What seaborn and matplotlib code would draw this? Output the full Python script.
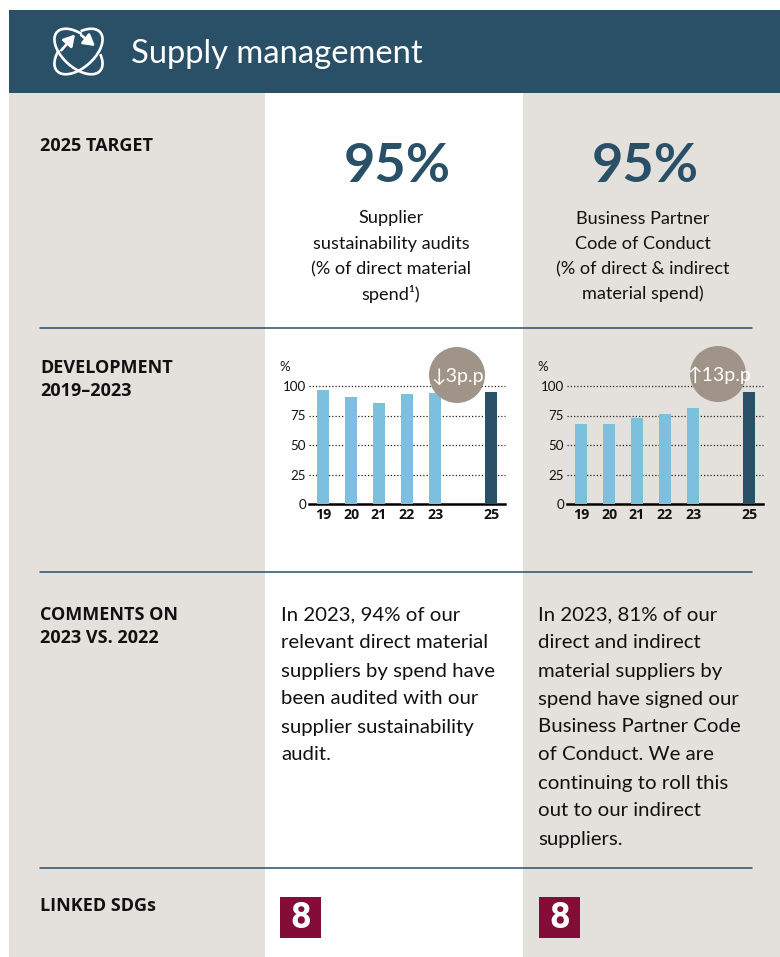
import numpy as np
import pandas as pd
import seaborn as sns
import matplotlib.pyplot as plt
from matplotlib.patches import Rectangle, Circle, Arc, FancyArrowPatch

# datos de los graficos
years = ['19', '20', '21', '22', '23', '24', '25']
audits = [97, 91, 86, 93, 94, np.nan, 95]
conduct = [68, 68, 73, 76, 81, np.nan, 95]
y_ticks = [0, 25, 50, 75, 100]

row_labels = [['2025 TARGET'], ['DEVELOPMENT', '2019–2023'], ['COMMENTS ON', '2023 VS. 2022'], ['LINKED SDGs']]
target = '95%'
kpi_left = ['Supplier', 'sustainability audits', '(% of direct material', 'spend¹)']
kpi_right = ['Business Partner', 'Code of Conduct', '(% of direct & indirect', 'material spend)']
comment_left = ['In 2023, 94% of our', 'relevant direct material', 'suppliers by spend have',
                'been audited with our', 'supplier sustainability', 'audit.']
comment_right = ['In 2023, 81% of our', 'direct and indirect', 'material suppliers by',
                 'spend have signed our', 'Business Partner Code', 'of Conduct. We are',
                 'continuing to roll this', 'out to our indirect', 'suppliers.']

NAVY = '#2A5068'
LIGHT = '#7CC0DE'
GREY = '#E4E1DC'
TAUPE = '#A09488'
SDG = '#830D36'
W, H = 780, 957
BODY = ['Lato', 'DejaVu Sans']
BOLD = ['Open Sans', 'DejaVu Sans']

sns.set_theme(style='white')
plt.rcParams['font.family'] = BODY

fig = plt.figure(figsize=(W / 100, H / 100), dpi=100, facecolor='white')

# capa de fondo en pixeles
bg = fig.add_axes([0, 0, 1, 1])
bg.set_xlim(0, W)
bg.set_ylim(H, 0)
bg.axis('off')
bg.add_patch(Rectangle((9, 93), 256, H - 93, color=GREY, lw=0))
bg.add_patch(Rectangle((523, 93), W - 523, H - 93, color=GREY, lw=0))
bg.add_patch(Rectangle((9, 10), W - 9, 83, color=NAVY, lw=0))
for yy in [328, 572, 868]:
    bg.plot([40, 752], [yy, yy], color=NAVY, lw=1.1)

# icono de la cabecera
cx, cy = 78.5, 51.5
bg.add_patch(Arc((cx, cy), 58, 32, angle=42, theta1=325, theta2=238, color='white', lw=1.9))
bg.add_patch(Arc((cx, cy), 58, 32, angle=-42, theta1=318, theta2=226, color='white', lw=1.9))
for start, tip in [((61.3, 50.3), (75, 34.5)), ((81.3, 35.3), (95, 46))]:
    bg.add_patch(FancyArrowPatch(start, tip, arrowstyle='-|>,head_length=0.55,head_width=0.32',
                                 mutation_scale=12, shrinkA=0, shrinkB=0, color='white', lw=1.9))

bg.text(131, 54, 'Supply management', color='white', fontsize=23.6, va='center', ha='left')

# etiquetas de las filas
for lines, yy in zip(row_labels, [146, 368, 615, 906]):
    for i, line in enumerate(lines):
        bg.text(40, yy + i * 23, line, fontsize=13, fontweight='bold', family=BOLD,
                color='#111111', va='center')

# objetivo y descripcion
for xc, xt, lines in [(391, 397, kpi_left), (643, 645, kpi_right)]:
    bg.text(xt, 166, target, fontsize=39, fontweight='bold', color=NAVY, ha='center', va='center')
    for i, line in enumerate(lines):
        bg.text(xc, 218.5 + i * 25.2, line, fontsize=13.1, color='#111111', ha='center', va='center')

# comentarios
for xl, lines in [(281, comment_left), (538, comment_right)]:
    for i, line in enumerate(lines):
        bg.text(xl, 615 + i * 28, line, fontsize=14.7, color='#111111', ha='left', va='center')

# cuadros SDG
for xl in [280, 539]:
    bg.add_patch(Rectangle((xl, 897), 41, 41, color=SDG, lw=0))
    bg.text(xl + 20.5, 918, '8', color='white', fontsize=26, fontweight='bold',
            family=['Roboto', 'DejaVu Sans'], ha='center', va='center')


def draw_chart(left, values, badge, cxb, cyb):
    # graficos de barras: x en pixeles 'left' hasta left+196, y de 504 a 386
    top, bottom = 386, 504
    ax = fig.add_axes([left / W, 1 - bottom / H, 196 / W, (bottom - top) / H])
    ax.patch.set_alpha(0)
    df = pd.DataFrame({'year': years, 'value': values})
    colors = {y: LIGHT for y in years}
    colors['25'] = NAVY
    sns.barplot(data=df, x='year', y='value', hue='year', palette=colors, order=years,
                dodge=False, legend=False, width=0.43, saturation=1, linewidth=0, ax=ax, zorder=3)
    ax.set_ylim(0, 100)
    ax.set_xlim(-0.5, 6.5)
    ax.set_xlabel('')
    ax.set_ylabel('')
    ax.set_yticks(y_ticks)
    ax.set_xticks([0, 1, 2, 3, 4, 6])
    ax.set_xticklabels(['19', '20', '21', '22', '23', '25'], fontsize=10.2, fontweight='bold',
                       family=BOLD, color='#111111')
    ax.tick_params(axis='y', labelsize=9.6, labelcolor='#111111', length=0, pad=2)
    ax.tick_params(axis='x', length=0, pad=3)
    for yy in y_ticks[1:]:
        ax.axhline(yy, color='#222222', lw=0.9, ls=(0, (1, 1.6)), zorder=1, clip_on=False)
    sns.despine(ax=ax, left=True, right=True, top=True)
    ax.spines['bottom'].set_linewidth(1.8)
    ax.spines['bottom'].set_color('black')
    ax.text(-24 / 196, 1.16, '%', transform=ax.transAxes, fontsize=9.5, color='#111111', ha='center', va='center')
    # circulo con la variacion
    top_layer = fig.add_axes([0, 0, 1, 1])
    top_layer.set_xlim(0, W)
    top_layer.set_ylim(H, 0)
    top_layer.axis('off')
    top_layer.add_patch(Circle((cxb, cyb), 28, color=TAUPE, lw=0))
    top_layer.text(cxb + 1, cyb + 1, badge, color='white', fontsize=14, ha='center', va='center')


draw_chart(309, audits, '↓3p.p', 457, 375)
draw_chart(567, conduct, '↑13p.p', 718, 374)

fig.savefig('out.png', dpi=100)
plt.close(fig)
